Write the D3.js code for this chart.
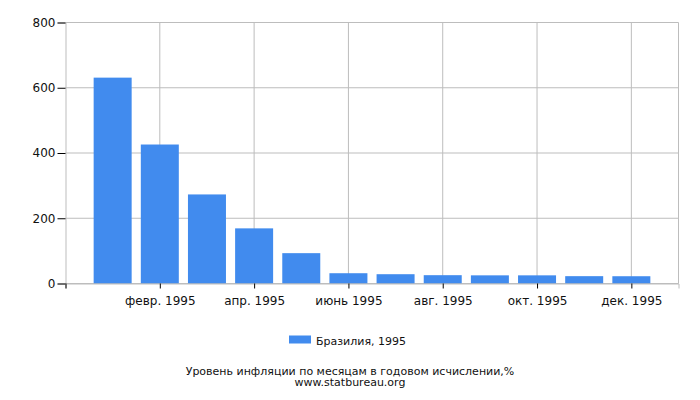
<!DOCTYPE html>
<html>
<head>
<meta charset="utf-8">
<script src="https://cdn.jsdelivr.net/npm/d3@7"></script>
<style>
  body { margin: 0; background: #fff; }
  svg { font-family: "DejaVu Sans", sans-serif; }
</style>
</head>
<body>
<svg id="chart" width="700" height="400"></svg>
<script>
// месяцы 1995, значения инфляции (г/г, %)
const months = ["янв. 1995", "февр. 1995", "март 1995", "апр. 1995", "май 1995", "июнь 1995",
  "июль 1995", "авг. 1995", "сент. 1995", "окт. 1995", "нояб. 1995", "дек. 1995"];
const values = [631, 426, 273, 169, 93, 31.5, 28.5, 25.5, 25, 25, 22.5, 22.3];
const yTicks = [0, 200, 400, 600, 800];
const seriesName = "Бразилия, 1995";
const title = "Уровень инфляции по месяцам в годовом исчислении,%";
const source = "www.statbureau.org";

const svg = d3.select("#chart");
const margin = { left: 65.5, right: 678.5, top: 22.5, bottom: 283.5 };

// x: слоты 0..13, столбики по центру на 1..12
const x = d3.scaleLinear().domain([0, months.length + 1]).range([margin.left, margin.right]);
const y = d3.scaleLinear().domain([0, 800]).range([margin.bottom, margin.top]);

const gridColor = "#bdbdbd";

// сетка
svg.append("g")
  .selectAll("line")
  .data(yTicks)
  .join("line")
  .attr("x1", margin.left).attr("x2", margin.right)
  .attr("y1", (d) => y(d)).attr("y2", (d) => y(d))
  .attr("stroke", gridColor);

const labelIdx = d3.range(2, months.length + 1, 2);
svg.append("g")
  .selectAll("line")
  .data(labelIdx.concat([months.length + 1]))
  .join("line")
  .attr("x1", (d) => x(d)).attr("x2", (d) => x(d))
  .attr("y1", margin.top).attr("y2", margin.bottom)
  .attr("stroke", gridColor);

// столбики
const barW = 38;
svg.append("g")
  .selectAll("rect")
  .data(values)
  .join("rect")
  .attr("x", (d, i) => x(i + 1) - barW / 2)
  .attr("y", (d) => y(d))
  .attr("width", barW)
  .attr("height", (d) => y(0) - y(d))
  .attr("fill", "#418bee");

// оси
const yAxis = svg.append("g")
  .attr("transform", `translate(${margin.left},0)`)
  .call(d3.axisLeft(y).tickValues(yTicks).tickSize(8).tickPadding(2));
yAxis.select(".domain").attr("stroke", gridColor);
yAxis.selectAll("text").attr("font-size", "12px").attr("fill", "#111").attr("font-family", "DejaVu Sans");

const xAxis = svg.append("g")
  .attr("transform", `translate(0,${margin.bottom})`)
  .call(d3.axisBottom(x)
    .tickValues([0].concat(labelIdx))
    .tickFormat((d) => (d === 0 ? "" : months[d - 1]))
    .tickSize(5).tickPadding(8));
xAxis.select(".domain").attr("stroke", gridColor);
xAxis.selectAll("text").attr("font-size", "12px").attr("fill", "#111").attr("font-family", "DejaVu Sans");

// легенда
svg.append("rect")
  .attr("x", 289).attr("y", 335.5)
  .attr("width", 22).attr("height", 8)
  .attr("fill", "#418bee");
svg.append("text")
  .attr("x", 316).attr("y", 345)
  .attr("font-size", "11px").attr("fill", "#111")
  .text(seriesName);

// подписи
svg.append("text")
  .attr("x", 350).attr("y", 375)
  .attr("text-anchor", "middle")
  .attr("font-size", "11px").attr("fill", "#111")
  .text(title);
svg.append("text")
  .attr("x", 350).attr("y", 386)
  .attr("text-anchor", "middle")
  .attr("font-size", "11px").attr("fill", "#111")
  .text(source);
</script>
</body>
</html>
